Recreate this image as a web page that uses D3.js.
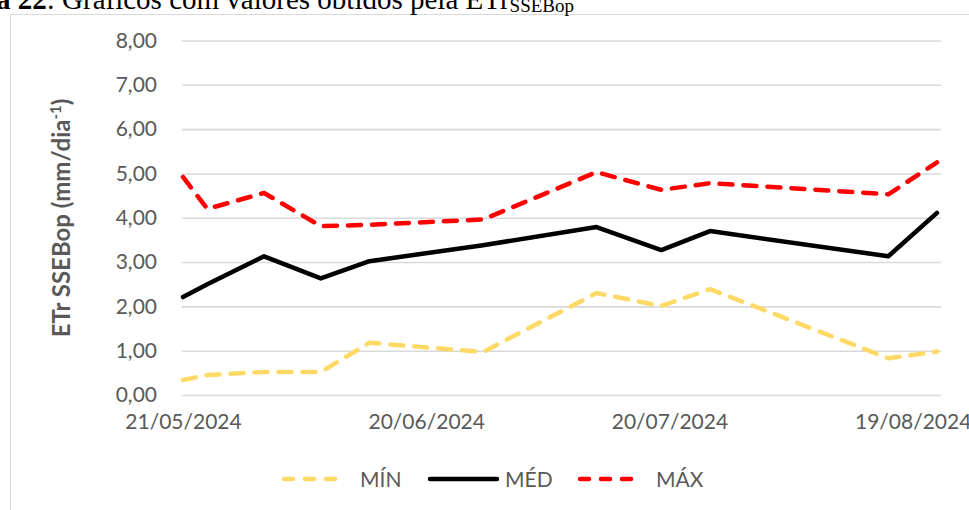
<!DOCTYPE html>
<html>
<head>
<meta charset="utf-8">
<script src="https://cdn.jsdelivr.net/npm/d3@7"></script>
<style>
  html, body { margin: 0; padding: 0; background: #fff; overflow: hidden; }
  svg { display: block; }
</style>
</head>
<body>
<svg id="chart" width="969" height="510"></svg>
<script>
// ---- data ----
const dates = ["21/05/2024","24/05/2024","31/05/2024","07/06/2024","13/06/2024","27/06/2024","11/07/2024","19/07/2024","25/07/2024","16/08/2024","22/08/2024"];
const minValues = [0.34, 0.45, 0.52, 0.52, 1.18, 0.97, 2.30, 2.01, 2.39, 0.83, 0.98];
const medValues = [2.21, 2.50, 3.13, 2.63, 3.02, 3.38, 3.79, 3.27, 3.70, 3.13, 4.11];
const maxValues = [4.92, 4.20, 4.56, 3.81, 3.84, 3.96, 5.03, 4.63, 4.78, 4.53, 5.25];
const seriesNames = ["MÍN", "MÉD", "MÁX"];
const xTickLabels = ["21/05/2024", "20/06/2024", "20/07/2024", "19/08/2024"];
const yTickValues = [0, 1, 2, 3, 4, 5, 6, 7, 8];

// ---- setup ----
const parse = d3.timeParse("%d/%m/%Y");
const fmtDate = d3.timeFormat("%d/%m/%Y");
const locale = d3.formatLocale({decimal: ",", thousands: ".", grouping: [3], currency: ["R$", ""]});
const fmtY = locale.format(".2f");

const svg = d3.select("#chart");
const font = "Lato, 'Open Sans', sans-serif";
const textColor = "#595959";

const series = [
  {name: seriesNames[0], values: minValues, color: "#FFD966", dash: "13,11"},
  {name: seriesNames[1], values: medValues, color: "#000000", dash: null},
  {name: seriesNames[2], values: maxValues, color: "#FF0000", dash: "13,11"}
];

const gridLeft = 182, gridRight = 941;
const x = d3.scaleTime()
  .domain([parse(dates[0]), parse(dates[dates.length - 1])])
  .range([183, 937]);
const y = d3.scaleLinear().domain([0, 8]).range([395, 40.5]);

// chart area border
svg.append("rect")
  .attr("x", 10.5).attr("y", 14.5)
  .attr("width", 1100).attr("height", 700)
  .attr("fill", "#fff").attr("stroke", "#D9D9D9").attr("stroke-width", 1);

// caption (partially cut off at top, as in the source)
const cap = svg.append("text")
  .attr("x", -4).attr("y", 9)
  .attr("font-family", "'Liberation Serif', 'Times New Roman', serif")
  .attr("font-size", 29).attr("fill", "#000");
cap.append("tspan").attr("font-weight", "bold").text("a 22");
cap.append("tspan").text(": Gráficos com valores obtidos pela ETr");
cap.append("tspan").attr("font-size", 19).attr("dy", 3).text("SSEBop");

// gridlines
const grid = svg.append("g")
  .attr("transform", `translate(${gridLeft},0)`)
  .call(d3.axisLeft(y).tickValues(yTickValues).tickSize(-(gridRight - gridLeft)).tickFormat(""));
grid.select(".domain").remove();
grid.selectAll("line").attr("stroke", "#D9D9D9").attr("stroke-width", 1.6);

// y labels
const yAxis = svg.append("g")
  .attr("transform", `translate(${gridLeft},0)`)
  .call(d3.axisLeft(y).tickValues(yTickValues).tickSize(0).tickPadding(25).tickFormat(fmtY));
yAxis.select(".domain").remove();
yAxis.selectAll("text")
  .attr("font-family", font).attr("font-size", 21).attr("fill", textColor);

// x labels
const xAxis = svg.append("g")
  .attr("transform", `translate(0,${y(0)})`)
  .call(d3.axisBottom(x).tickValues(xTickLabels.map(parse)).tickSize(0).tickPadding(19).tickFormat(fmtDate));
xAxis.select(".domain").remove();
xAxis.selectAll("text")
  .attr("font-family", font).attr("font-size", 21).attr("fill", textColor);

// y title
const yt = svg.append("text")
  .attr("transform", "translate(70,218) rotate(-90)")
  .attr("text-anchor", "middle")
  .attr("font-family", font).attr("font-size", 24).attr("font-weight", "bold")
  .attr("fill", textColor);
yt.append("tspan").text("ETr SSEBop (mm/dia");
yt.append("tspan").attr("font-size", 15).attr("dy", -9).text("-1");
yt.append("tspan").attr("dy", 9).text(")");

// lines
const line = d3.line()
  .x((d, i) => x(parse(dates[i])))
  .y(d => y(d));

svg.append("g").selectAll("path")
  .data(series)
  .join("path")
  .attr("d", d => line(d.values))
  .attr("fill", "none")
  .attr("stroke", d => d.color)
  .attr("stroke-width", 4.5)
  .attr("stroke-linecap", "round")
  .attr("stroke-linejoin", "round")
  .attr("stroke-dasharray", d => d.dash);

// legend
const legendPos = [{x1: 284, x2: 345, tx: 360}, {x1: 430, x2: 497, tx: 505}, {x1: 580, x2: 641, tx: 656}];
const legendY = 479;
const lg = svg.append("g").selectAll("g")
  .data(series)
  .join("g");
lg.append("line")
  .attr("x1", (d, i) => legendPos[i].x1).attr("x2", (d, i) => legendPos[i].x2)
  .attr("y1", legendY).attr("y2", legendY)
  .attr("stroke", d => d.color).attr("stroke-width", 4.5)
  .attr("stroke-linecap", "round")
  .attr("stroke-dasharray", d => d.dash ? "9,12" : null);
lg.append("text")
  .attr("x", (d, i) => legendPos[i].tx).attr("y", legendY)
  .attr("dy", "0.36em")
  .attr("font-family", font).attr("font-size", 21).attr("fill", textColor)
  .text(d => d.name);
</script>
</body>
</html>
